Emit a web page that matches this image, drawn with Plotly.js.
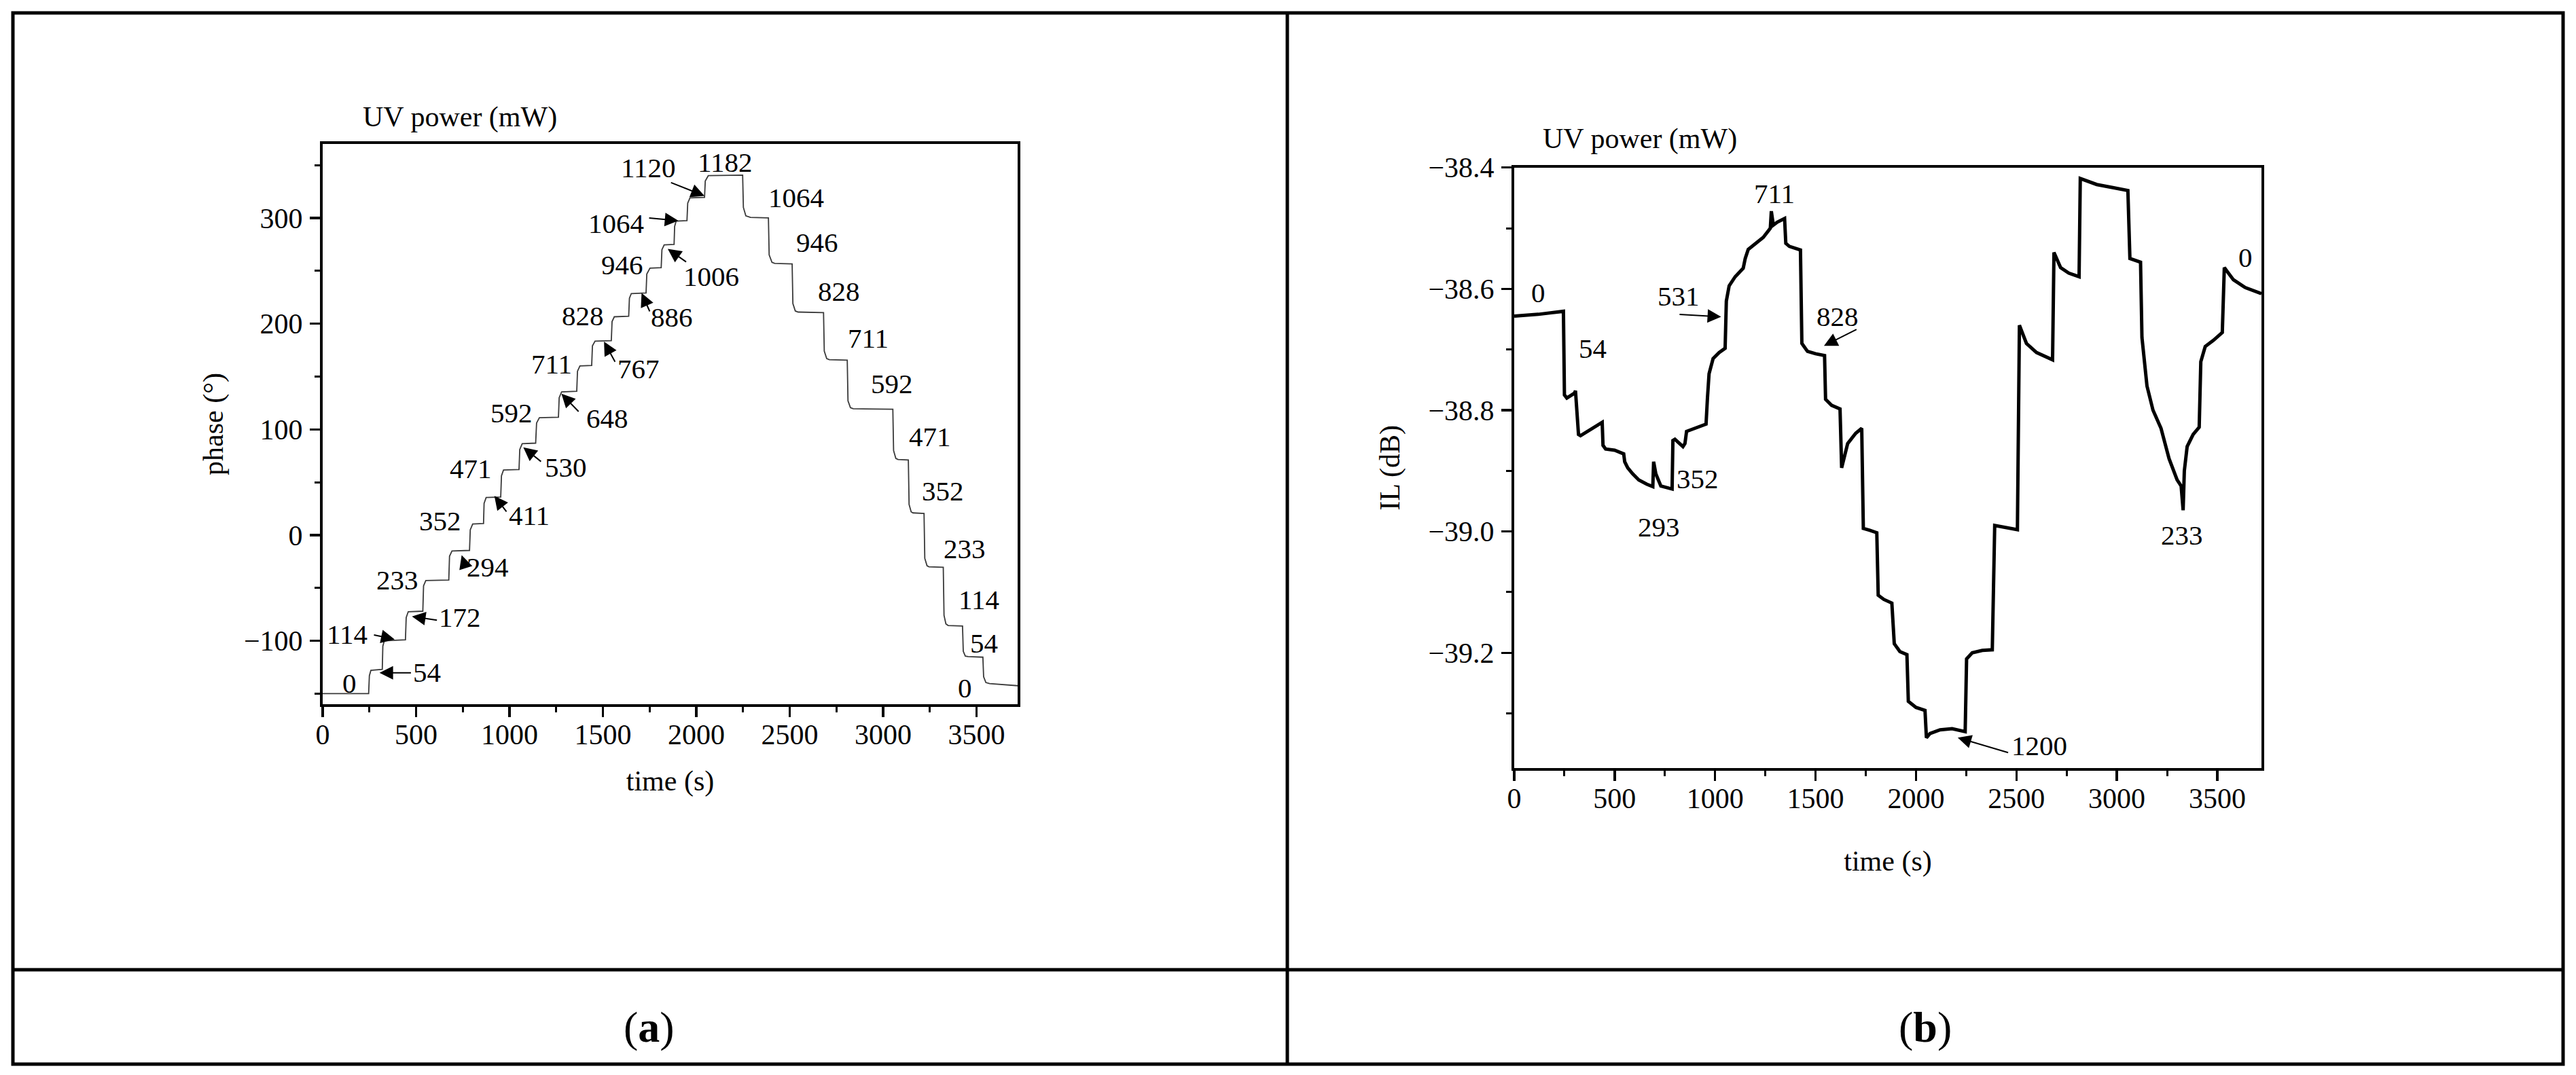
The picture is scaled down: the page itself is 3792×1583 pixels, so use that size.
<!DOCTYPE html>
<html>
<head>
<meta charset="utf-8">
<script src="https://cdn.plot.ly/plotly-3.0.1.min.js"></script>
<style>html,body{margin:0;padding:0;background:#fff;}#chart{width:3792px;height:1583px;}</style>
</head>
<body>
<div id="chart"></div>
<script>
// ---------- Panel (a): phase vs time ----------
const phaseTime = [0,246,250,258,319,322,330,443,447,458,536,540,552,675,679,692,786,790,803,861,864,875,953,957,968,1051,1055,1068,1140,1145,1160,1262,1266,1279,1360,1364,1377,1440,1444,1458,1545,1549,1561,1638,1642,1652,1731,1735,1752,1812,1816,1828,1881,1884,1892,1950,1954,1966,2044,2048,2064,2248,
  2252,2265,2290,2386,2390,2405,2420,2513,2517,2530,2545,2681,2685,2698,2712,2808,2812,2825,2840,3052,3056,3068,3080,3135,3139,3150,3160,3219,3223,3235,3245,3322,3326,3336,3348,3425,3429,3440,3455,3534,3538,3550,3570,3720];
const phaseValue = [-150,-150,-133,-128,-127,-105,-100,-99,-78,-72.5,-72,-48,-43,-42.5,-20,-15,-14.5,5,10.5,11,30,35.5,36,56,61.5,62,81,86.5,87,106,111,111.5,130,135.5,136,155,160,160.5,179,183.5,184,202,206.5,207,224,228.5,229,247,252.5,253,270,274.5,275,292,297,297.5,314,319,319.5,335,340,340.5,
  310,302,300.5,300,265,258,257,256.5,219,212,211,210.5,174,167,166,165.5,127,120.5,119.5,119,80,72.5,71.5,71,29,22,21,20.5,-22,-29,-30,-30.5,-76,-84,-85.5,-86,-110,-114.5,-115,-115.5,-134,-139.5,-140.5,-142.5];

// UV power labels for panel (a): text, time, phase
const aLabelText  = ["0","54","114","172","233","294","352","411","471","530","592","648","711","767","828","886","946","1006","1064","1120","1182","1064","946","828","711","592","471","352","233","114","54","0"];
const aLabelTime  = [142,559,130,733,401,884,629,1104,791,1301,1011,1522,1227,1691,1394,1869,1603,2079,1570,1742,2153,2535,2647,2763,2920,3048,3252,3321,3436,3512,3539,3437];
const aLabelPhase = [-140,-130,-94,-78,-42.6,-30.4,13.2,18.4,62.8,64.3,115.9,110.2,161.9,157.4,207.6,206.2,255.5,244.9,295,347.5,352.4,319,277,230.6,186,143,93,41.8,-12.6,-61,-102,-144.6];

// arrows for panel (a): head (time, phase) and tail (time, phase)
const aArrowHeadT = [304,385,478,744,919,1074,1278,1506,1707,1847,1904,2044];
const aArrowHeadV = [-130.3,-98.6,-77,-19,37,83,133.7,183,229,270.7,297.4,320.9];
const aArrowTailT = [478,269,617,767,988,1174,1375,1568,1753,1951,1742,1859];
const aArrowTailV = [-130.3,-94.3,-80.7,-31.6,21.3,68.8,115.9,163,210.7,257.8,300,333.8];

// ---------- Panel (b): IL vs time ----------
const ilTime = [0,120,245,250,262,300,305,320,330,380,438,442,455,500,545,550,565,590,620,660,690,694,705,730,786,790,800,840,850,858,900,955,962,970,990,1020,1050,1056,1070,1100,1140,1150,1165,1200,1240,1275,1280,1290,1310,1346,1352,1370,1425,1432,1460,1500,1545,1550,1580,1622,1630,1660,1700,1730,1738,1770,1805,1812,1840,1880,1892,1920,1955,1962,2000,2045,2052,2070,2120,2180,2245,2252,2280,2330,2380,2392,2440,2505,2515,2550,2600,2680,2687,2720,2760,2812,2818,2900,2980,3055,3065,3090,3118,3125,3150,3180,3220,3260,3300,3320,3330,3336,3350,3380,3410,3418,3440,3480,3525,3535,3580,3640,3720];
const ilValue = [-38.645,-38.642,-38.637,-38.775,-38.78,-38.772,-38.768,-38.84,-38.842,-38.832,-38.82,-38.858,-38.864,-38.866,-38.872,-38.885,-38.895,-38.905,-38.915,-38.922,-38.926,-38.885,-38.905,-38.925,-38.93,-38.85,-38.848,-38.86,-38.855,-38.835,-38.83,-38.823,-38.78,-38.74,-38.715,-38.705,-38.698,-38.62,-38.595,-38.58,-38.566,-38.55,-38.535,-38.525,-38.515,-38.5,-38.472,-38.495,-38.49,-38.484,-38.525,-38.53,-38.536,-38.69,-38.703,-38.707,-38.71,-38.782,-38.792,-38.798,-38.895,-38.855,-38.838,-38.83,-38.995,-38.998,-39.002,-39.105,-39.112,-39.118,-39.185,-39.198,-39.203,-39.28,-39.29,-39.295,-39.34,-39.333,-39.327,-39.325,-39.33,-39.21,-39.2,-39.196,-39.195,-38.99,-38.993,-38.997,-38.66,-38.69,-38.705,-38.717,-38.54,-38.565,-38.574,-38.58,-38.418,-38.428,-38.433,-38.438,-38.55,-38.553,-38.556,-38.68,-38.76,-38.8,-38.83,-38.88,-38.915,-38.925,-38.965,-38.9,-38.86,-38.84,-38.828,-38.72,-38.695,-38.685,-38.672,-38.565,-38.585,-38.598,-38.608];

const bLabelText = ["0","54","293","352","531","711","828","1200","233","0"];
const bLabelTime = [119,390,722,912,818,1295,1610,2614,3325,3642];
const bLabelIL   = [-38.606,-38.698,-38.993,-38.913,-38.612,-38.443,-38.646,-39.353,-39.006,-38.548];

const bArrowHeadT = [1030,1542,2208];
const bArrowHeadV = [-38.646,-38.694,-39.34];
const bArrowTailT = [818,1709,2464];
const bArrowTailV = [-38.642,-38.666,-39.365];

const panelLabels = ["(<b>a</b>)","(<b>b</b>)"];

// ---------- layout ----------
const W = 3792, H = 1583;
const FONT = "Liberation Serif, Times New Roman, serif";
const px = v => v / W;
const py = v => 1 - v / H;

function axisStyle(extra) {
  return Object.assign({
    showline: true, linecolor: "#000", linewidth: 4, mirror: true,
    ticks: "outside", ticklen: 15, tickwidth: 3.5, tickcolor: "#000",
    showgrid: false, zeroline: false,
    tickfont: {family: FONT, size: 42, color: "#000"},
    ticklabelstandoff: 2,
    fixedrange: true
  }, extra);
}

const traces = [
  {x: phaseTime, y: phaseValue, xaxis: "x", yaxis: "y", type: "scatter", mode: "lines",
   line: {color: "#3a3a3a", width: 1.8}, hoverinfo: "skip", showlegend: false},
  {x: ilTime, y: ilValue, xaxis: "x2", yaxis: "y2", type: "scatter", mode: "lines",
   line: {color: "#000", width: 5}, hoverinfo: "skip", showlegend: false}
];

const annotations = [];
aLabelText.forEach((t, i) => annotations.push({
  xref: "x", yref: "y", x: aLabelTime[i], y: aLabelPhase[i], text: t, showarrow: false,
  font: {family: FONT, size: 41, color: "#000"}, xanchor: "center", yanchor: "middle"
}));
aArrowHeadT.forEach((t, i) => annotations.push({
  xref: "x", yref: "y", axref: "x", ayref: "y", x: t, y: aArrowHeadV[i], ax: aArrowTailT[i], ay: aArrowTailV[i],
  text: "", showarrow: true, arrowhead: 2, arrowsize: 2, arrowwidth: 2, arrowcolor: "#000", standoff: 0, startstandoff: 0
}));
bLabelText.forEach((t, i) => annotations.push({
  xref: "x2", yref: "y2", x: bLabelTime[i], y: bLabelIL[i], text: t, showarrow: false,
  font: {family: FONT, size: 41, color: "#000"}, xanchor: "center", yanchor: "middle"
}));
bArrowHeadT.forEach((t, i) => annotations.push({
  xref: "x2", yref: "y2", axref: "x2", ayref: "y2", x: t, y: bArrowHeadV[i], ax: bArrowTailT[i], ay: bArrowTailV[i],
  text: "", showarrow: true, arrowhead: 2, arrowsize: 2, arrowwidth: 2, arrowcolor: "#000", standoff: 0, startstandoff: 0
}));
// "UV power (mW)" headers
annotations.push({xref: "paper", yref: "paper", x: px(677), y: py(172), text: "UV power (mW)", showarrow: false,
  font: {family: FONT, size: 42, color: "#000"}, xanchor: "center", yanchor: "middle"});
annotations.push({xref: "paper", yref: "paper", x: px(2414), y: py(205), text: "UV power (mW)", showarrow: false,
  font: {family: FONT, size: 42, color: "#000"}, xanchor: "center", yanchor: "middle"});
// panel captions
annotations.push({xref: "paper", yref: "paper", x: px(956), y: py(1512), text: panelLabels[0], showarrow: false,
  font: {family: FONT, size: 64, color: "#000"}, xanchor: "center", yanchor: "middle"});
annotations.push({xref: "paper", yref: "paper", x: px(2834), y: py(1512), text: panelLabels[1], showarrow: false,
  font: {family: FONT, size: 64, color: "#000"}, xanchor: "center", yanchor: "middle"});

const lw = 5;
const shapes = [
  {type: "rect", xref: "paper", yref: "paper", x0: px(19), x1: px(3773), y0: py(1567), y1: py(19), line: {color: "#000", width: lw}},
  {type: "line", xref: "paper", yref: "paper", x0: px(1895), x1: px(1895), y0: py(1567), y1: py(19), line: {color: "#000", width: lw}},
  {type: "line", xref: "paper", yref: "paper", x0: px(19), x1: px(3773), y0: py(1428), y1: py(1428), line: {color: "#000", width: lw}}
];

const layout = {
  width: W, height: H,
  margin: {l: 0, r: 0, t: 0, b: 0},
  paper_bgcolor: "#fff", plot_bgcolor: "#fff",
  showlegend: false,
  font: {family: FONT, size: 42, color: "#000"},
  xaxis: axisStyle({domain: [px(475), px(1498)], range: [0, 3720], dtick: 500, tick0: 0, anchor: "y", ticklabelstandoff: -10,
    minor: {dtick: 250, ticks: "outside", ticklen: 8, tickwidth: 3, tickcolor: "#000"},
    title: {text: "time (s)", font: {family: FONT, size: 42, color: "#000"}, standoff: 31}}),
  yaxis: axisStyle({domain: [py(1037), py(212)], range: [-160, 370], dtick: 100, tick0: 0, anchor: "x",
    minor: {dtick: 50, ticks: "outside", ticklen: 8, tickwidth: 3, tickcolor: "#000"},
    title: {text: "phase (°)", font: {family: FONT, size: 42, color: "#000"}, standoff: 18}}),
  xaxis2: axisStyle({domain: [px(2229), px(3329)], range: [0, 3720], dtick: 500, tick0: 0, anchor: "y2", ticklabelstandoff: -10,
    minor: {dtick: 250, ticks: "outside", ticklen: 8, tickwidth: 3, tickcolor: "#000"},
    title: {text: "time (s)", font: {family: FONT, size: 42, color: "#000"}, standoff: 55}}),
  yaxis2: axisStyle({domain: [py(1131), py(246.7)], range: [-39.39, -38.4], dtick: 0.2, tick0: -38.4, tickformat: ".1f", anchor: "x2",
    minor: {dtick: 0.1, ticks: "outside", ticklen: 8, tickwidth: 3, tickcolor: "#000"},
    title: {text: "IL (dB)", font: {family: FONT, size: 42, color: "#000"}, standoff: 30}}),
  annotations: annotations,
  shapes: shapes
};

Plotly.newPlot("chart", traces, layout, {staticPlot: true, displayModeBar: false});
</script>
</body>
</html>
